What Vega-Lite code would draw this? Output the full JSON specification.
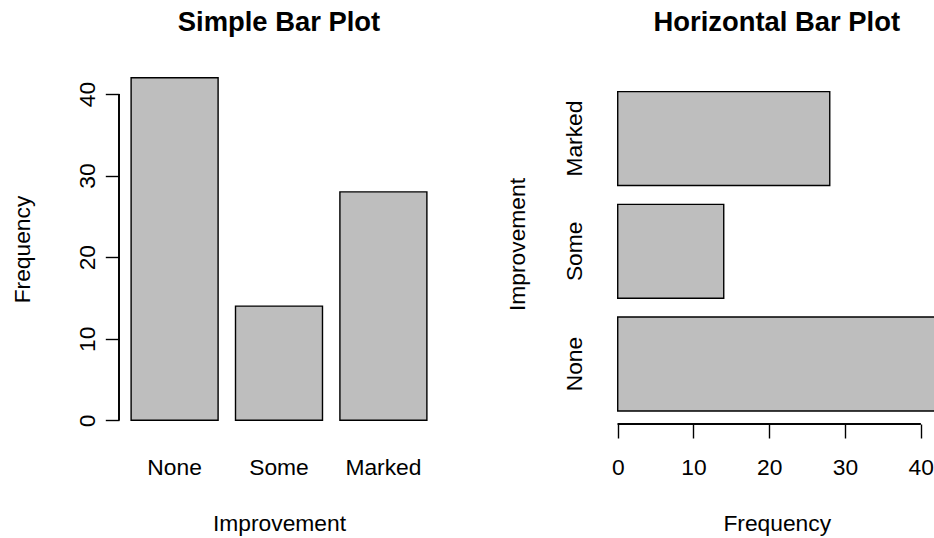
{
  "$schema": "https://vega.github.io/schema/vega-lite/v6.json",
  "background": "white",
  "padding": {"left": 11, "top": 8, "right": 0, "bottom": 0},
  "config": {
    "font": "Liberation Sans",
    "view": {"stroke": null},
    "axis": {
      "labelFont": "Liberation Sans",
      "titleFont": "Liberation Sans",
      "labelFontSize": 22.8,
      "titleFontSize": 22.8,
      "titleFontWeight": "normal",
      "labelColor": "black",
      "titleColor": "black",
      "tickColor": "black",
      "tickWidth": 1.4,
      "grid": false,
      "labelFlush": false,
      "labelOverlap": false
    },
    "title": {
      "font": "Liberation Sans",
      "fontSize": 27.4,
      "fontWeight": "bold",
      "color": "black",
      "baseline": "alphabetic",
      "offset": 28,
      "frame": "group",
      "anchor": "middle"
    }
  },
  "data": {
    "values": [
      {"Improvement": "None", "Frequency": 42},
      {"Improvement": "Some", "Frequency": 14},
      {"Improvement": "Marked", "Frequency": 28}
    ]
  },
  "spacing": 166,
  "bounds": "flush",
  "hconcat": [
    {
      "width": 320,
      "height": 370,
      "title": "Simple Bar Plot",
      "layer": [
        {
          "mark": {"type": "bar", "fill": "#bebebe", "stroke": "black", "strokeWidth": 1.4},
          "encoding": {
            "x": {
              "field": "Improvement",
              "type": "nominal",
              "sort": ["None", "Some", "Marked"],
              "scale": {"paddingInner": 0.1667, "paddingOuter": 0.116},
              "axis": {
                "title": "Improvement",
                "labelAngle": 0,
                "labelAlign": "center",
                "labelBaseline": "alphabetic",
                "domain": false,
                "ticks": false,
                "labelPadding": 40,
                "titleBaseline": "alphabetic",
                "titlePadding": 52
              }
            },
            "y": {
              "field": "Frequency",
              "type": "quantitative",
              "scale": {"domain": [-1.68, 43.68], "nice": false, "zero": false},
              "axis": {
                "title": "Frequency",
                "values": [0, 10, 20, 30, 40],
                "domain": false,
                "tickSize": 13.7,
                "labelAngle": 270,
                "labelAlign": "center",
                "labelBaseline": "alphabetic",
                "labelPadding": 11,
                "titleAngle": 270,
                "titleBaseline": "alphabetic",
                "titlePadding": 47
              }
            },
            "y2": {"datum": 0}
          }
        },
        {
          "mark": {"type": "rule", "x": 0, "color": "black", "strokeWidth": 1.4},
          "encoding": {
            "y": {"datum": 0, "type": "quantitative"},
            "y2": {"datum": 40}
          }
        }
      ]
    },
    {
      "width": 343.5,
      "height": 360,
      "title": "Horizontal Bar Plot",
      "layer": [
        {
          "mark": {"type": "bar", "fill": "#bebebe", "stroke": "black", "strokeWidth": 1.4},
          "encoding": {
            "y": {
              "field": "Improvement",
              "type": "nominal",
              "sort": ["Marked", "Some", "None"],
              "scale": {"paddingInner": 0.1667, "paddingOuter": 0.18, "align": 0.68},
              "axis": {
                "title": "Improvement",
                "labelAngle": 270,
                "labelAlign": "center",
                "labelBaseline": "alphabetic",
                "domain": false,
                "ticks": false,
                "labelPadding": 24,
                "titleAngle": 270,
                "titleBaseline": "alphabetic",
                "titlePadding": 39
              }
            },
            "x": {
              "field": "Frequency",
              "type": "quantitative",
              "scale": {"domain": [-1.68, 43.68], "nice": false, "zero": false},
              "axis": {
                "title": "Frequency",
                "values": [0, 10, 20, 30, 40],
                "domain": false,
                "tickSize": 14,
                "labelAngle": 0,
                "labelAlign": "center",
                "labelBaseline": "alphabetic",
                "labelPadding": 36,
                "titleBaseline": "alphabetic",
                "titlePadding": 52
              }
            },
            "x2": {"datum": 0}
          }
        },
        {
          "mark": {"type": "rule", "y": "height", "color": "black", "strokeWidth": 1.4},
          "encoding": {
            "x": {"datum": 0, "type": "quantitative"},
            "x2": {"datum": 40}
          }
        }
      ]
    }
  ]
}
